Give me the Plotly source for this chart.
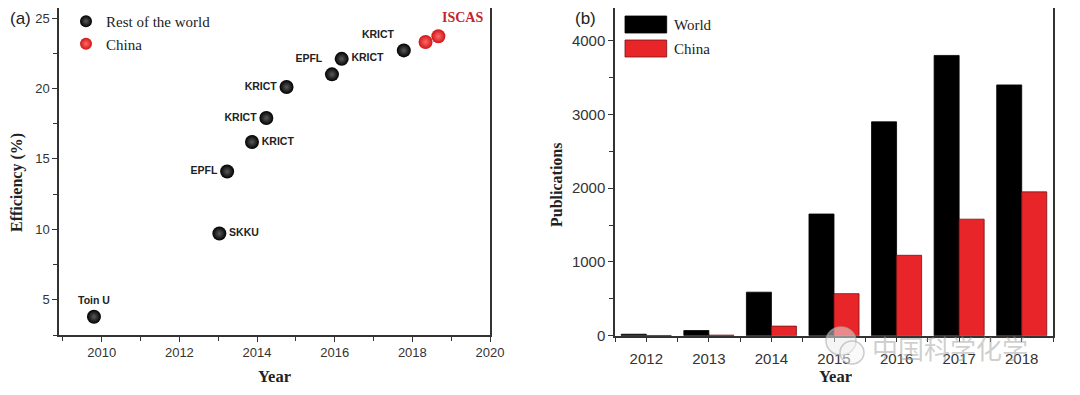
import plotly.graph_objects as go

# ---------------- data: panel (a) efficiency records ----------------
row_years = [2009.8, 2013.03, 2013.23, 2013.87, 2014.24, 2014.76, 2015.93, 2016.18, 2017.78]
row_eff = [3.8, 9.7, 14.1, 16.2, 17.9, 20.1, 21.0, 22.1, 22.7]
row_labels = ["Toin U", "SKKU", "EPFL", "KRICT", "KRICT", "KRICT", "EPFL", "KRICT", "KRICT"]
row_label_pos = ["top center", "middle right", "middle left", "middle right", "middle left",
                 "middle left", "top left", "middle right", "top left"]

china_years = [2018.34, 2018.67]
china_eff = [23.3, 23.7]
china_label = "ISCAS"

# ---------------- data: panel (b) publications ----------------
pub_years = [2012, 2013, 2014, 2015, 2016, 2017, 2018]
world_pubs = [20, 70, 590, 1650, 2900, 3800, 3400]
china_pubs = [3, 8, 130, 570, 1090, 1580, 1950]

SERIF = "Liberation Serif"
SANS = "Liberation Sans"
RED = "#e8262a"
AXC = "#333333"

# figure sized so that, with the page's default 8px body margin, the page is 1080 x 395
FW, FH, M = 1064, 379, 8


def fx(p):
    return (p - M) / FW


def fy(p):
    return 1 - (p - M) / FH


fig = go.Figure()

fig.add_trace(go.Scatter(
    x=row_years, y=row_eff, mode="markers+text", name="Rest of the world",
    text=row_labels, textposition=row_label_pos,
    textfont=dict(family=SANS, size=10.5, color="#222222", weight="bold"),
    marker=dict(size=14, color="#000000", line=dict(width=0),
                gradient=dict(type="radial", color="#5a5a5a")),
    xaxis="x", yaxis="y", legend="legend", cliponaxis=False,
))
fig.add_trace(go.Scatter(
    x=china_years, y=china_eff, mode="markers", name="China",
    marker=dict(size=14, color="#d01515", line=dict(width=0),
                gradient=dict(type="radial", color="#ff6a6a")),
    xaxis="x", yaxis="y", legend="legend",
))

fig.add_trace(go.Bar(
    x=pub_years, y=world_pubs, name="World", marker=dict(color="#000000", line=dict(color="#000000", width=0.8)),
    xaxis="x2", yaxis="y2", showlegend=False,
))
fig.add_trace(go.Bar(
    x=pub_years, y=china_pubs, name="China", marker=dict(color=RED, line=dict(color="#7a1010", width=0.8)),
    xaxis="x2", yaxis="y2", showlegend=False,
))

ax_common = dict(showline=True, linecolor=AXC, linewidth=1.5, mirror=True, showgrid=False, zeroline=False,
                 ticks="outside", ticklen=5, tickwidth=1.2, tickcolor=AXC)

fig.update_layout(
    width=FW, height=FH, margin=dict(l=0, r=0, t=0, b=0, autoexpand=False),
    paper_bgcolor="white", plot_bgcolor="white",
    barmode="group", bargap=0.2, bargroupgap=0,
    xaxis=dict(domain=[fx(59), fx(490)], range=[2008.9, 2020], tickvals=[2010, 2012, 2014, 2016, 2018, 2020],
               minor=dict(dtick=1, tick0=2009, ticks="outside", ticklen=4, tickcolor=AXC),
               tickfont=dict(family=SANS, size=13, color=AXC), anchor="y", **ax_common),
    yaxis=dict(domain=[fy(335), fy(8)], range=[2.5, 25.71], tickvals=[5, 10, 15, 20, 25],
               minor=dict(dtick=2.5, tick0=2.5, ticks="outside", ticklen=4, tickcolor=AXC),
               tickfont=dict(family=SANS, size=13, color=AXC), anchor="x", **ax_common),
    xaxis2=dict(domain=[fx(615), fx(1053)], range=[2011.5, 2018.5], tickvals=pub_years,
                minor=dict(dtick=0.5, tick0=2011.5, ticks="outside", ticklen=5, tickcolor=AXC),
                tickfont=dict(family=SANS, size=15, color=AXC), ticklabelstandoff=4,
                anchor="y2", **ax_common),
    yaxis2=dict(domain=[fy(335.7), fy(8)], range=[0, 4443], tickvals=[0, 1000, 2000, 3000, 4000],
                minor=dict(dtick=500, ticks="outside", ticklen=4, tickcolor=AXC),
                tickfont=dict(family=SANS, size=15, color=AXC), anchor="x2", **ax_common),
    legend=dict(x=fx(66), y=1.008, xanchor="left", yanchor="top", bgcolor="rgba(0,0,0,0)",
                font=dict(family=SERIF, size=15, color="#222222"), itemsizing="constant",
                tracegroupgap=0),
)

C = dict(xref="paper", yref="paper", showarrow=False, xanchor="center", yanchor="middle")
ann = []
# panel labels
ann.append(dict(text="(a)", x=fx(20), y=fy(19), font=dict(family=SANS, size=17, color="#222222"), **C))
ann.append(dict(text="(b)", x=fx(585), y=fy(19), font=dict(family=SANS, size=17, color="#222222"), **C))
# axis titles
ann.append(dict(text="<b>Efficiency (%)</b>", x=fx(17), y=fy(183), textangle=-90,
                font=dict(family=SERIF, size=16, color="#222222"), **C))
ann.append(dict(text="<b>Year</b>", x=fx(274), y=fy(376), font=dict(family=SERIF, size=16.5, color="#222222"), **C))
ann.append(dict(text="<b>Publications</b>", x=fx(556), y=fy(185), textangle=-90,
                font=dict(family=SERIF, size=16, color="#222222"), **C))
ann.append(dict(text="<b>Year</b>", x=fx(835), y=fy(376), font=dict(family=SERIF, size=16.5, color="#222222"), **C))
# ISCAS label attached to newest China record
ann.append(dict(text="<b>" + china_label + "</b>", x=china_years[-1], y=china_eff[-1], xref="x", yref="y",
                showarrow=False, xanchor="left", yanchor="middle", xshift=2, yshift=19,
                font=dict(family=SERIF, size=14, color="#c1272d")))
# legend for panel (b)
shapes = [
    dict(type="rect", xref="paper", yref="paper", x0=fx(625), x1=fx(666.7), y0=fy(33), y1=fy(16),
         fillcolor="#000000", line=dict(color="#000000", width=0.8)),
    dict(type="rect", xref="paper", yref="paper", x0=fx(625), x1=fx(666.7), y0=fy(57), y1=fy(40),
         fillcolor=RED, line=dict(color="#7a1010", width=0.8)),
]
ann.append(dict(text="World", x=fx(672), y=fy(25), xref="paper", yref="paper", showarrow=False,
                xanchor="left", yanchor="middle", font=dict(family=SERIF, size=15, color="#222222")))
ann.append(dict(text="China", x=fx(672), y=fy(49), xref="paper", yref="paper", showarrow=False,
                xanchor="left", yanchor="middle", font=dict(family=SERIF, size=15, color="#222222")))
# watermark (WeChat-style icon + account name)
ann.append(dict(text="中国科学化学", x=fx(950), y=fy(347),
                font=dict(family="Noto Sans CJK SC", size=26, color="rgba(160,160,160,0.5)"), **C))
shapes.append(dict(type="circle", xref="paper", yref="paper", x0=fx(826), x1=fx(856),
                   y0=fy(355), y1=fy(327), line=dict(color="rgba(170,170,170,0.6)", width=1.5),
                   fillcolor="rgba(235,235,235,0.5)"))
shapes.append(dict(type="circle", xref="paper", yref="paper", x0=fx(840), x1=fx(864),
                   y0=fy(364), y1=fy(341), line=dict(color="rgba(170,170,170,0.6)", width=1.5),
                   fillcolor="rgba(245,245,245,0.5)"))

fig.update_layout(annotations=ann, shapes=shapes)
fig.write_html("out.html", config={"displayModeBar": False})
